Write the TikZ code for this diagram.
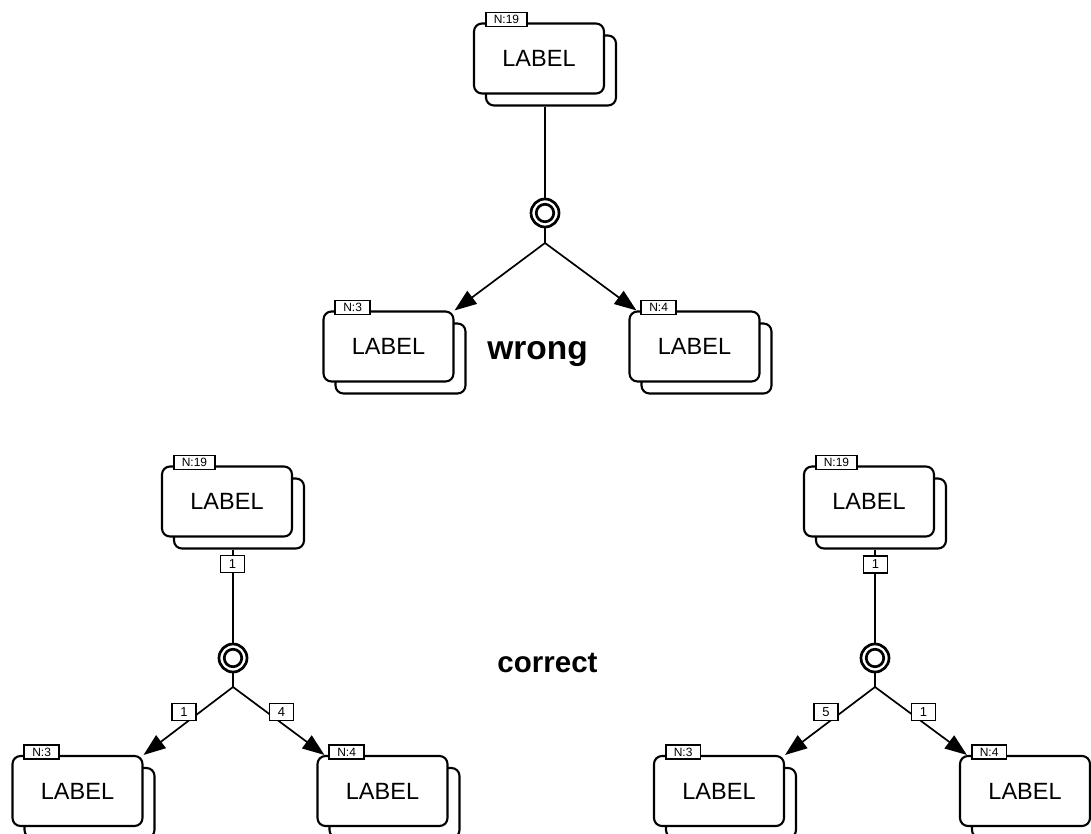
\documentclass[tikz,border=0pt]{standalone}
\usepackage{fontspec}
\setmainfont{Liberation Sans}
\usetikzlibrary{arrows.meta,calc}
\tikzset{
  frontbox/.style={draw, line width=2.1pt, rounded corners=8pt, fill=white,
    minimum width=130pt, minimum height=70pt, inner sep=0pt,
    font=\fontsize{23.5}{28}\selectfont},
  backbox/.style={draw, line width=2.1pt, rounded corners=8pt, fill=white,
    minimum width=130pt, minimum height=70pt, inner sep=0pt},
  tagbox/.style={draw, line width=1.7pt, fill=white, inner xsep=8pt, inner ysep=0pt,
    minimum height=14pt, font=\fontsize{12}{12}\selectfont},
  lbl/.style={draw, line width=1.2pt, fill=white, minimum width=24pt, minimum height=17pt,
    inner sep=0pt, font=\fontsize{13}{13}\selectfont},
  conn/.style={line width=1.7pt},
  arr/.style={line width=1.7pt, -{Triangle[length=22pt,width=16pt]}},
  ringo/.style={circle, draw, line width=2.7pt, minimum size=28pt, inner sep=0pt, fill=white},
  ringi/.style={circle, draw, line width=2.7pt, minimum size=17.5pt, inner sep=0pt},
  bigtext/.style={font=\bfseries, inner sep=0pt}
}
\newcommand\myent[4]{%
  \node[backbox] (#1b) at (#2+12,#3+12) {};
  \node[frontbox] (#1) at (#2,#3) {LABEL};
  \node[tagbox, anchor=west] (#1t) at ($(#1.north west)+(12,-3)$) {#4};
}
\begin{document}
\begin{tikzpicture}[x=1pt,y=-1pt]
\clip (0,0) rectangle (1091,834);
\useasboundingbox (0,0) rectangle (1091,834);
\fill[white] (0,0) rectangle (1091,834);

% entities
\myent{t19}{539}{58.5}{N:19}
\myent{t3}{388.5}{346.5}{N:3}
\myent{t4}{694.5}{346.5}{N:4}
\myent{a19}{227}{501.5}{N:19}
\myent{a3}{77.5}{791}{N:3}
\myent{a4}{382.5}{791}{N:4}
\myent{b19}{869}{501.5}{N:19}
\myent{b3}{719}{791}{N:3}
\myent{b4}{1025}{791}{N:4}

% rings and junctions
\node[ringo] (tc) at (545,213) {};
\node[ringi] at (tc) {};
\coordinate (tj) at (545,243);
\node[ringo] (ac) at (233,658) {};
\node[ringi] at (ac) {};
\coordinate (aj) at (233,687);
\node[ringo] (bc) at (875,658) {};
\node[ringi] at (bc) {};
\coordinate (bj) at (875,687);

% connectors
\draw[conn] (t19b.south -| tc) -- (tc);
\draw[conn] (tc) -- (tj);
\draw[arr] (tj) -- (t3.north east);
\draw[arr] (tj) -- ($(t4.north west)+(8,0)$);

\draw[conn] (a19b.south -| ac) -- (ac);
\draw[conn] (ac) -- (aj);
\draw[arr] (aj) -- (a3.north east);
\draw[arr] (aj) -- ($(a4.north west)+(8,0)$);

\draw[conn] (b19b.south -| bc) -- (bc);
\draw[conn] (bc) -- (bj);
\draw[arr] (bj) -- (b3.north east);
\draw[arr] (bj) -- ($(b4.north west)+(8,0)$);

% connector labels
\node[lbl] (la0) at (232.5,564) {1};
\node[lbl] (la1) at (184,712) {1};
\node[lbl] (la2) at (281.5,712) {4};
\node[lbl] (lb0) at (875.5,564.5) {1};
\node[lbl] (lb1) at (826,712) {5};
\node[lbl] (lb2) at (923.5,712) {1};

% captions
\node[bigtext, font=\fontsize{33.5}{38}\selectfont\bfseries, anchor=base] (wrong) at (537.5,359) {wrong};
\node[bigtext, font=\fontsize{29.5}{34}\selectfont\bfseries, anchor=base] (correct) at (547.5,672) {correct};
\end{tikzpicture}
\end{document}
